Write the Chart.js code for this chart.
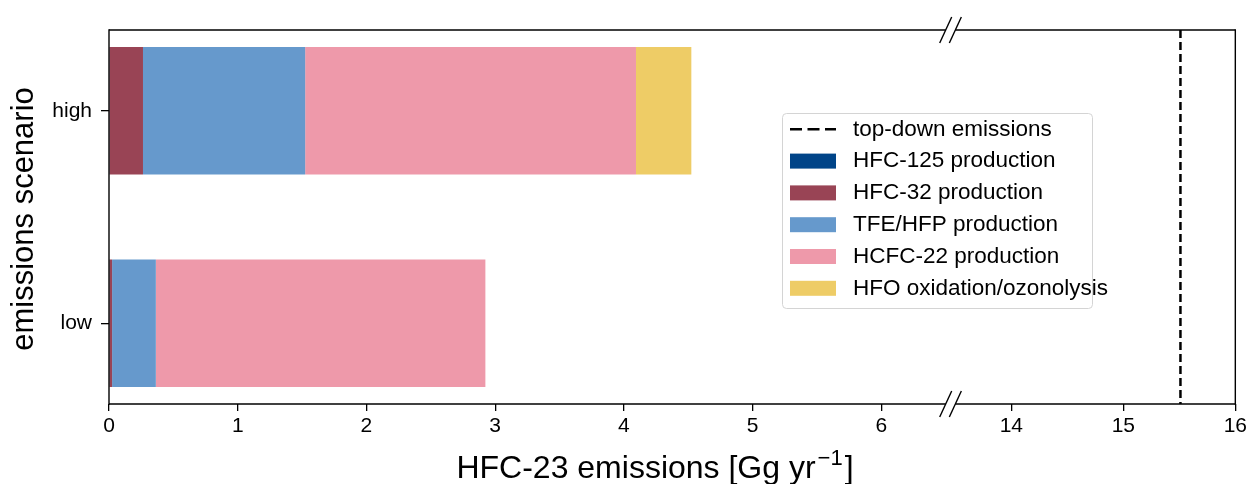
<!DOCTYPE html>
<html><head><meta charset="utf-8">
<script src="https://cdn.jsdelivr.net/npm/chart.js@4.4.1/dist/chart.umd.min.js"></script>
<style>html,body{margin:0;padding:0;background:#fff;} #wrap{width:1250px;height:484px;position:relative;}</style>
</head><body><div id="wrap"><canvas id="c" width="1250" height="484"></canvas></div>
<script>
// ---------------- data ----------------
const categories = ['low', 'high'];
const seriesLabels = ['HFC-125 production', 'HFC-32 production', 'TFE/HFP production', 'HCFC-22 production', 'HFO oxidation/ozonolysis'];
const hfc125 = [0.004, 0.004];
const hfc32 = [0.02, 0.26];
const tfeHfp = [0.34, 1.26];
const hcfc22 = [2.56, 2.57];
const hfo = [0, 0.43];
const topDown = 15.51;
const topDownLabel = 'top-down emissions';
const xTickValues = [0, 1, 2, 3, 4, 5, 6, 14, 15, 16];
const xTickLabels = ['0', '1', '2', '3', '4', '5', '6', '14', '15', '16'];
const yTickLabels = ['low', 'high'];
const xTitleParts = ['HFC-23 emissions [Gg yr', '\u22121', ']'];
const yTitle = 'emissions scenario';
const seriesColors = ['#004488', '#994455', '#6699CC', '#EE99AA', '#EECC66'];
const seriesValues = [hfc125, hfc32, tfeHfp, hcfc22, hfo];

// ---------------- broken x axis ----------------
const LEFT_MAX = 6.5, RIGHT_MIN = 13.5, RIGHT_MAX = 16;
const GAP = 0.075;          // width of break, in left-segment units
const RIGHT_SCALE = 0.87;   // right segment is compressed relative to left
function U(v) { return v <= LEFT_MAX ? v : LEFT_MAX + GAP + (v - RIGHT_MIN) * RIGHT_SCALE; }
const U_MAX = U(RIGHT_MAX);
const Y_MIN = -0.38, Y_MAX = 1.38;

const FONT = '"Liberation Sans", Arial, Helvetica, sans-serif';
Chart.defaults.font.family = FONT;
Chart.defaults.color = '#000';

const datasets = seriesLabels.map((lab, k) => ({
  type: 'bar',
  label: lab,
  data: categories.map((c, i) => ({ x: seriesValues[k][i], y: i })),
  backgroundColor: seriesColors[k],
  borderWidth: 0,
  barPercentage: 0.6,
  categoryPercentage: 1.0
}));
datasets.push({
  type: 'line',
  label: topDownLabel,
  data: [{ x: U(topDown), y: Y_MAX }, { x: U(topDown), y: Y_MIN }],
  borderColor: '#000',
  borderWidth: 2.5,
  borderDash: [8, 4],
  pointRadius: 0,
  fill: false,
  clip: 0
});

const decorPlugin = {
  id: 'decor',
  afterDraw(chart) {
    const ctx = chart.ctx, a = chart.chartArea, xs = chart.scales.x;
    const xL = xs.getPixelForValue(LEFT_MAX), xR = xs.getPixelForValue(LEFT_MAX + GAP);
    ctx.save();
    ctx.strokeStyle = '#000';
    ctx.lineWidth = 1.4;
    const line = (x1, y1, x2, y2) => { ctx.beginPath(); ctx.moveTo(x1, y1); ctx.lineTo(x2, y2); ctx.stroke(); };
    line(a.left, a.top - 0.7, a.left, a.bottom + 0.7);
    line(a.right, a.top - 0.7, a.right, a.bottom + 0.7);
    [a.top, a.bottom].forEach(y => {
      line(a.left, y, xL, y);
      line(xR, y, a.right, y);
      [xL, xR].forEach(x => line(x - 6, y + 13, x + 6, y - 13));
    });

    // legend
    const lx = 782.5, ly = 113.5, lw = 310, lh = 195;
    ctx.fillStyle = 'rgba(255,255,255,0.8)';
    ctx.strokeStyle = '#d4d4d4';
    ctx.lineWidth = 1;
    ctx.beginPath();
    ctx.roundRect(lx, ly, lw, lh, 4);
    ctx.fill(); ctx.stroke();
    const rowH = 31.8, y0 = 129.3, hx = 790, hw = 46, tx = 853;
    ctx.font = '22.5px ' + FONT;
    ctx.textBaseline = 'middle';
    ctx.textAlign = 'left';
    ctx.strokeStyle = '#000';
    ctx.lineWidth = 2.5;
    ctx.setLineDash([12, 5.5]);
    line(hx, y0, hx + hw, y0);
    ctx.setLineDash([]);
    ctx.fillStyle = '#000';
    ctx.fillText(topDownLabel, tx, y0);
    seriesLabels.forEach((lab, k) => {
      const cy = y0 + (k + 1) * rowH;
      ctx.fillStyle = seriesColors[k];
      ctx.fillRect(hx, cy - 7.5, hw, 15);
      ctx.fillStyle = '#000';
      ctx.fillText(lab, tx, cy);
    });

    // x title with superscript
    const big = '32px ' + FONT, small = '22px ' + FONT;
    ctx.font = big; const w1 = ctx.measureText(xTitleParts[0]).width, w3 = ctx.measureText(xTitleParts[2]).width;
    ctx.font = small; const w2 = ctx.measureText(xTitleParts[1]).width;
    const total = w1 + w2 + w3 + 4;
    let x = 655 - total / 2; const base = 478;
    ctx.textBaseline = 'alphabetic';
    ctx.fillStyle = '#000';
    ctx.font = big; ctx.fillText(xTitleParts[0], x, base); x += w1 + 2;
    ctx.font = small; ctx.fillText(xTitleParts[1], x, base - 13); x += w2 + 2;
    ctx.font = big; ctx.fillText(xTitleParts[2], x, base);

    // y title
    ctx.save();
    ctx.translate(33, 219);
    ctx.rotate(-Math.PI / 2);
    ctx.font = '31px ' + FONT;
    ctx.textAlign = 'center';
    ctx.fillText(yTitle, 0, 0);
    ctx.restore();
    ctx.restore();
  }
};

new Chart(document.getElementById('c'), {
  type: 'bar',
  data: { datasets },
  options: {
    indexAxis: 'y',
    responsive: false,
    animation: false,
    layout: { padding: { left: 0, right: 12, top: 30, bottom: 0 } },
    plugins: { legend: { display: false }, tooltip: { enabled: false } },
    scales: {
      x: {
        type: 'linear', stacked: true, min: 0, max: U_MAX, offset: false,
        grid: { display: true, drawOnChartArea: false, drawTicks: true, tickLength: 7, color: '#000', lineWidth: 1.3, offset: false },
        border: { display: false },
        afterBuildTicks: s => { s.ticks = xTickValues.map(v => ({ value: U(v) })); },
        afterFit: s => { s.height = 80; },
        ticks: { autoSkip: false, maxRotation: 0, padding: 3, color: '#000', font: { size: 21 },
          callback: (v, i) => xTickLabels[i] }
      },
      y: {
        type: 'linear', stacked: true, min: Y_MIN, max: Y_MAX, offset: false,
        grid: { display: true, drawOnChartArea: false, drawTicks: true, tickLength: 8, color: '#000', lineWidth: 1.3, offset: false },
        border: { display: false },
        afterBuildTicks: s => { s.ticks = categories.map((c, i) => ({ value: i })); },
        afterFit: s => { s.width = 109; },
        ticks: { autoSkip: false, padding: 9, color: '#000', font: { size: 21 },
          callback: (v, i) => yTickLabels[i] }
      }
    }
  },
  plugins: [decorPlugin]
});
</script></body></html>
